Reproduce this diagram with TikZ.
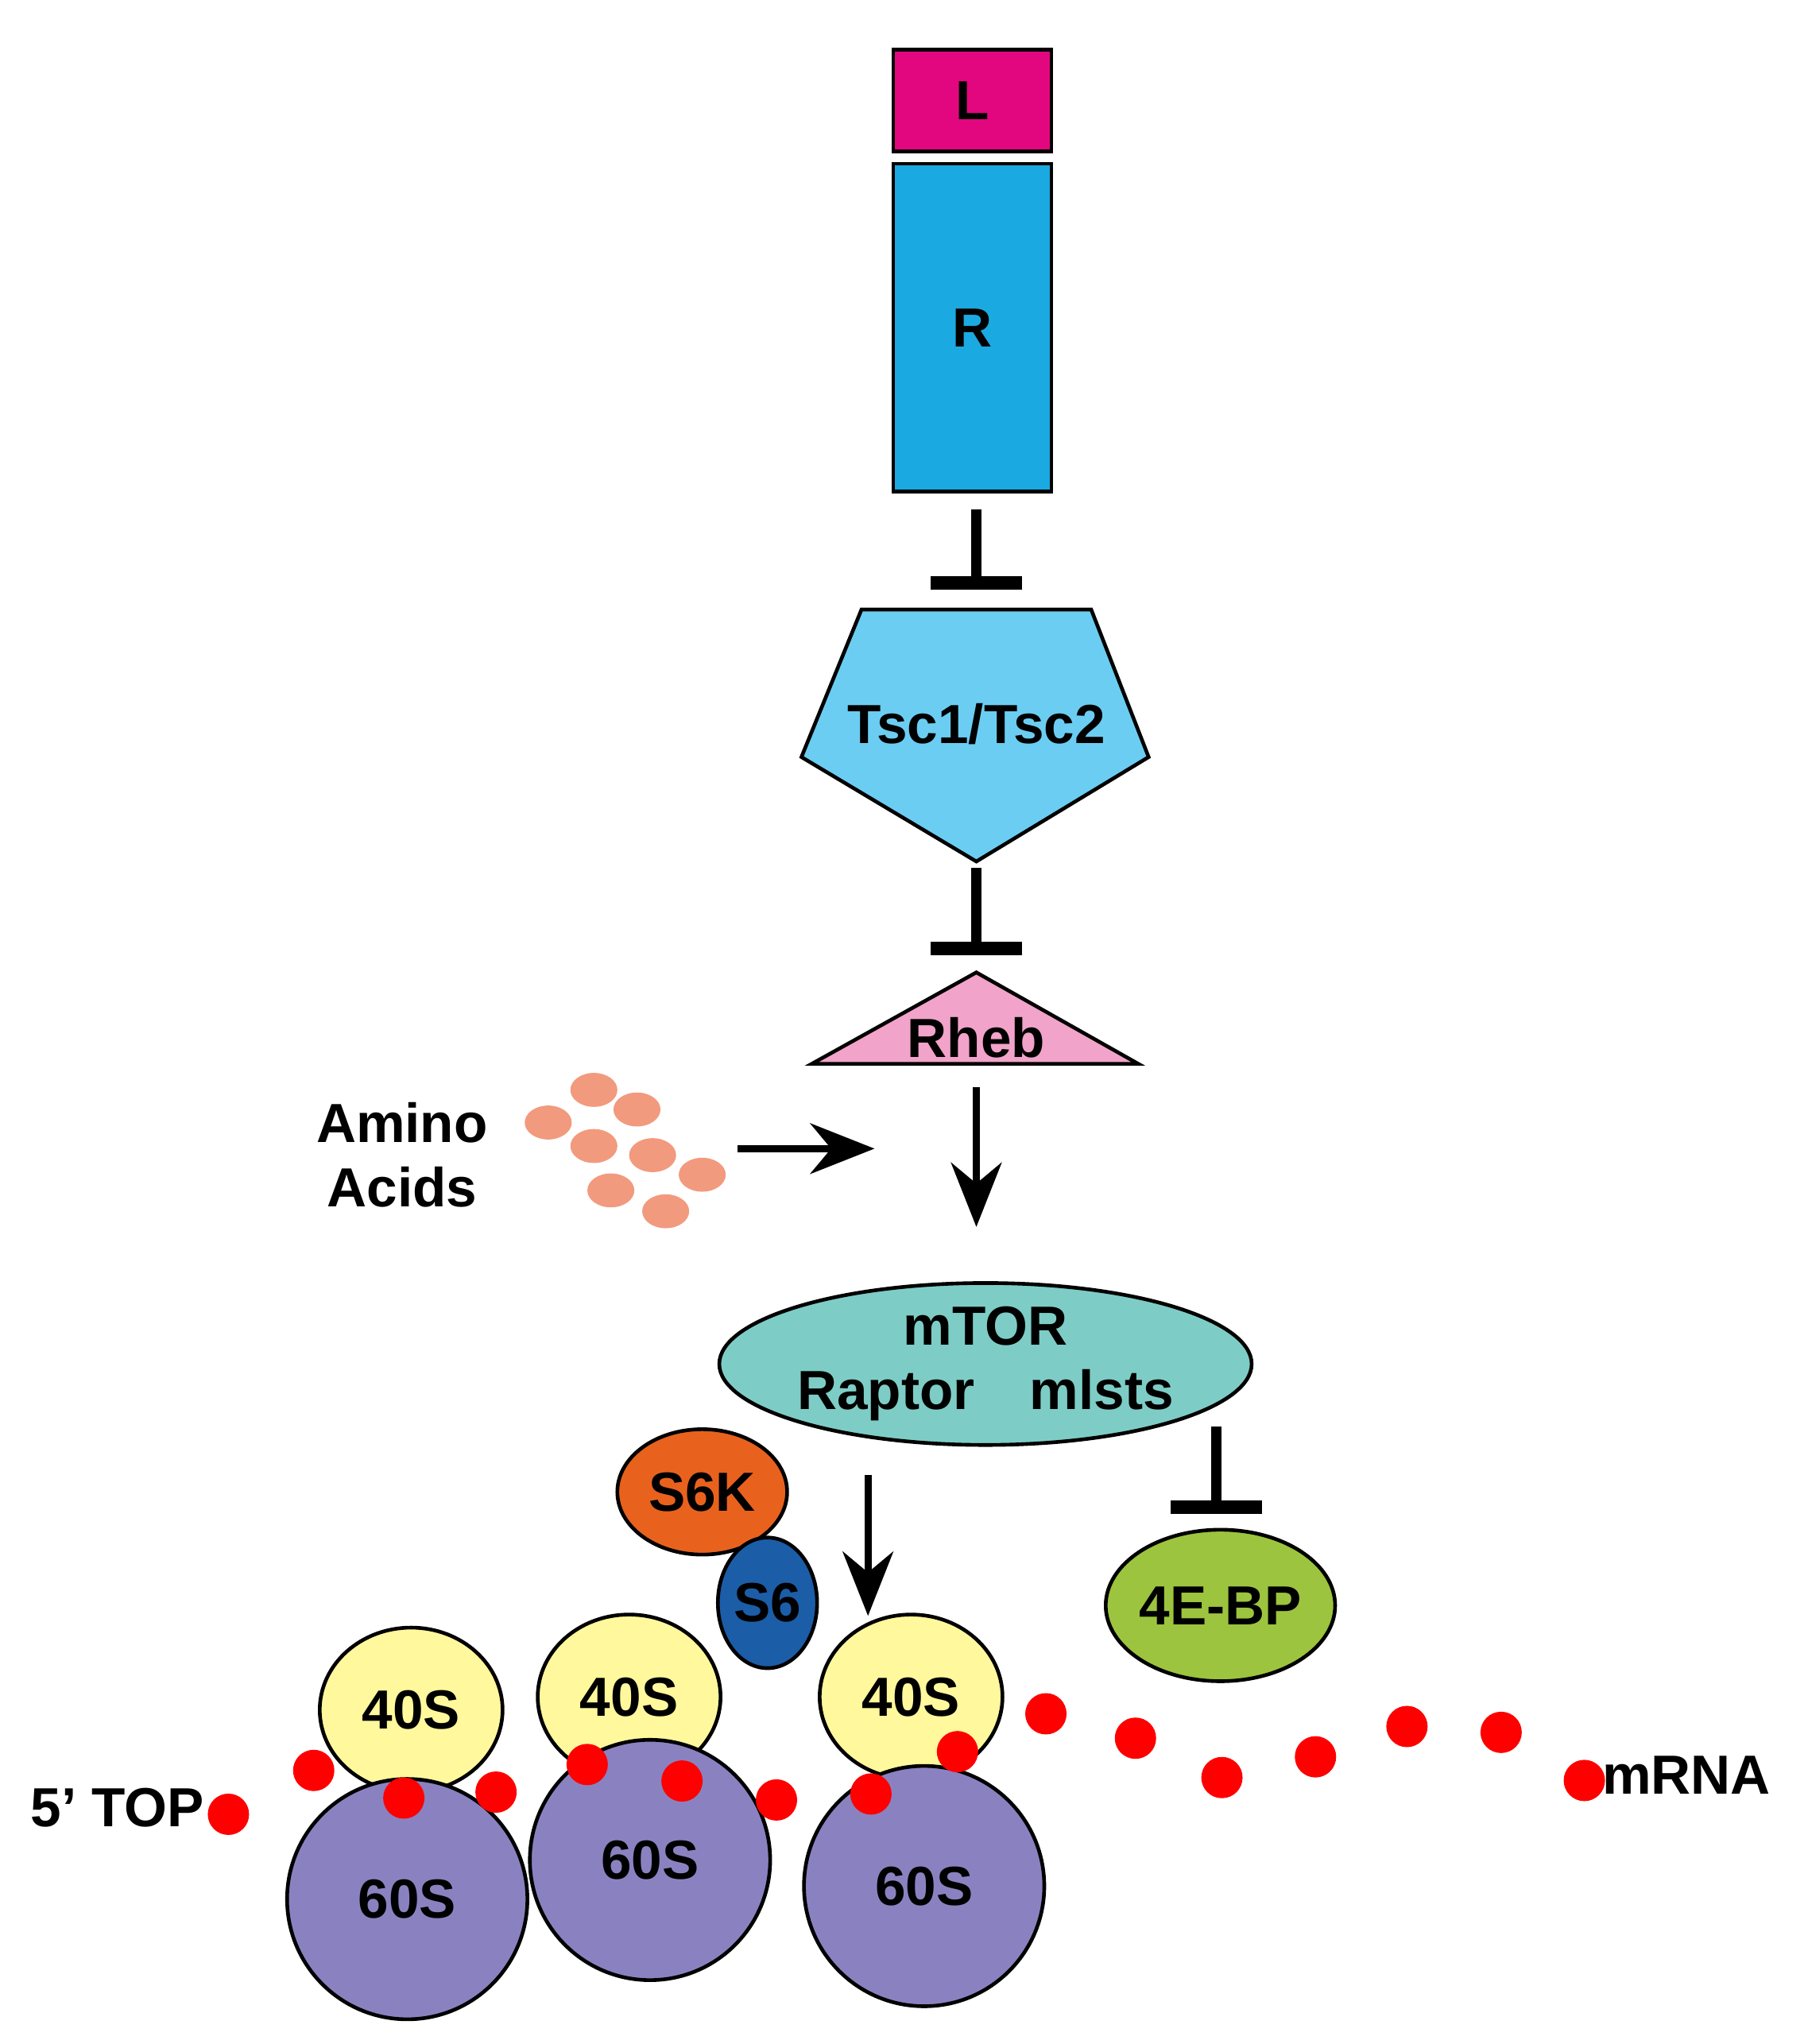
\documentclass[tikz,border=0pt]{standalone}
\usepackage{fontspec}
\setmainfont{Liberation Sans}
\usetikzlibrary{arrows.meta,shapes.geometric}
\definecolor{lig}{HTML}{E2077F}
\definecolor{rec}{HTML}{1BA9E1}
\definecolor{tsc}{HTML}{6CCDF2}
\definecolor{rheb}{HTML}{F1A3C9}
\definecolor{aa}{HTML}{F29A7E}
\definecolor{tor}{HTML}{7DCDC6}
\definecolor{ebp}{HTML}{9CC43E}
\definecolor{sk}{HTML}{E8621E}
\definecolor{ss}{HTML}{1C5DA8}
\definecolor{small}{HTML}{FFF89C}
\definecolor{large}{HTML}{8A82C0}
\tikzset{
  lbl/.style={font=\fontsize{12}{14}\selectfont\bfseries},
  blob/.style={ellipse,draw=black,thick,inner sep=0pt,lbl},
  act/.style={-{Stealth[length=14pt,width=11pt]},line width=1.6pt},
  inh/.style={-{Bar[width=20pt,line width=3pt]},line width=2.2pt}
}
\begin{document}
\begin{tikzpicture}[x=0.01cm,y=-0.01cm]
\useasboundingbox (0,0) rectangle (1385,1566);
% receptor
\node[draw,thick,fill=lig,minimum width=1.21cm,minimum height=0.78cm,lbl] (lig) at (745,77) {L};
\node[draw,thick,fill=rec,minimum width=1.21cm,minimum height=2.51cm,lbl] (rec) at (745,251) {R};
\draw[thick,fill=tsc] (660,467) -- (836,467) -- (880,580) -- (748,660) -- (614,580) -- cycle;
\node[lbl] (tsc) at (748,555) {Tsc1/Tsc2};
\draw[thick,fill=rheb] (748,745) -- (872,815) -- (622,815) -- cycle;
\node[lbl] (rheb) at (748,795) {Rheb};
\coordinate (r1) at (748,390);
\coordinate (t0) at (748,452);
\coordinate (t1) at (748,665);
\coordinate (h0) at (748,732);
\coordinate (h1) at (748,833);
\coordinate (m0) at (748,940);
\draw[inh] (r1) -- (t0);
\draw[inh] (t1) -- (h0);
\draw[act] (h1) -- (m0);
% amino acids
\node[lbl,align=center] (amino) at (308,885) {Amino\\Acids};
\foreach \x/\y in {420/860,455/835,488/850,455/878,500/885,538/900,468/912,510/928}
  \fill[aa] (\x,\y) ellipse (18 and 13);
\coordinate (a0) at (565,880);
\coordinate (a1) at (670,880);
\draw[act] (a0) -- (a1);
% complex
\node[blob,fill=tor,minimum width=3.56cm,minimum height=1.24cm,align=center] (tor) at (755,1045) {mTOR\\Raptor\quad mlsts};
\node[blob,fill=ebp,minimum width=1.64cm,minimum height=1.16cm] (ebp) at (935,1230) {4E-BP};
\coordinate (e0) at (932,1093);
\coordinate (e1) at (932,1160);
\draw[inh] (e0) -- (e1);
\coordinate (s0) at (665,1130);
\coordinate (s1) at (665,1238);
\draw[act] (s0) -- (s1);
\node[blob,fill=sk,minimum width=1.3cm,minimum height=0.96cm] (sk) at (538,1143) {S6K};
\node[blob,fill=ss,minimum width=0.76cm,minimum height=1.0cm] (ss) at (588,1228) {S6};
% ribosomes
\foreach \n/\x/\y in {a/315/1310,b/482/1300,c/698/1300}
  \node[blob,fill=small,minimum width=1.4cm,minimum height=1.26cm] (small\n) at (\x,\y) {40S};
\foreach \n/\x/\y in {a/312/1455,b/498/1425,c/708/1445}
  \node[blob,fill=large,minimum width=1.84cm,minimum height=1.84cm] (large\n) at (\x,\y) {60S};
% mRNA
\draw[red,line width=9pt,line cap=round,dash pattern=on 0pt off 21pt]
  plot[smooth,tension=0.6] coordinates {(175,1390) (250,1355) (340,1385) (440,1352) (560,1372) (650,1380) (780,1320) (840,1315) (940,1362) (1110,1318) (1215,1365)};
\node[lbl] (top) at (90,1385) {5’ TOP};
\node[lbl] (mrna) at (1292,1360) {mRNA};
\end{tikzpicture}
\end{document}
